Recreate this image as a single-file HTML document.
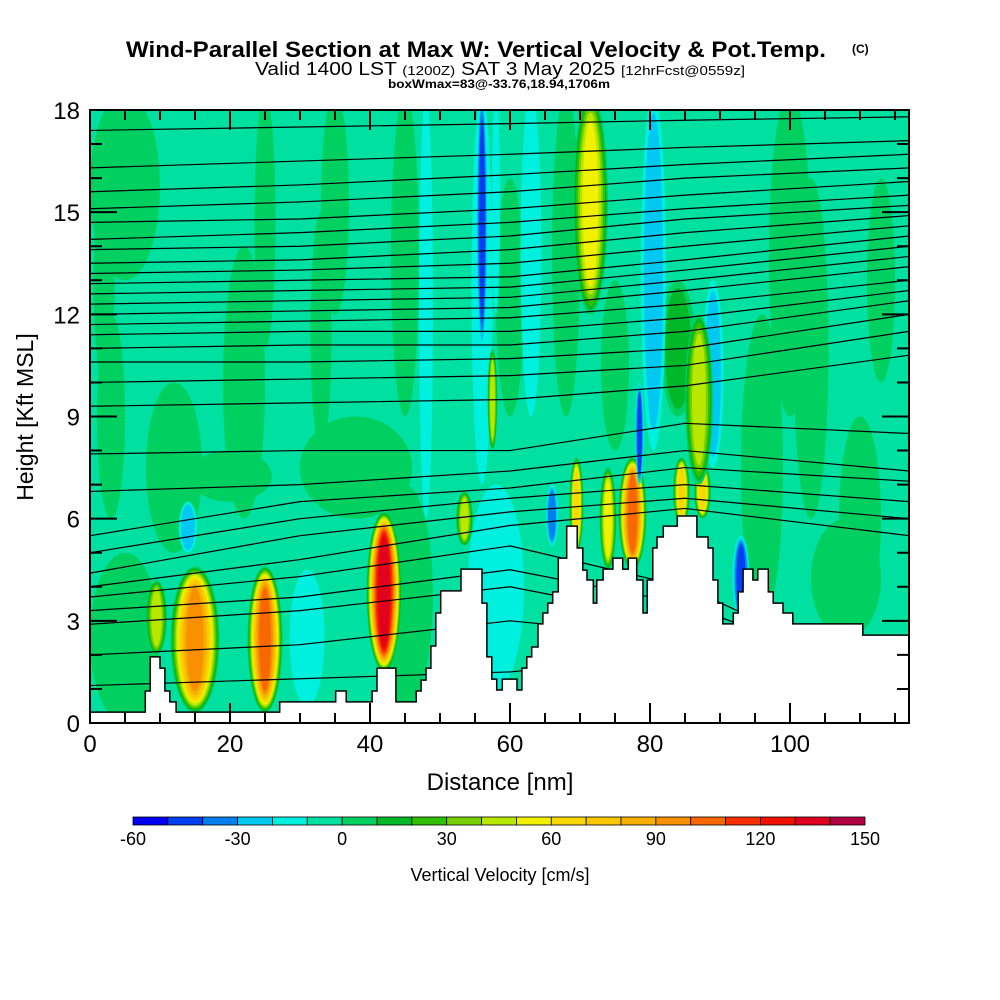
<!DOCTYPE html>
<html><head><meta charset="utf-8"><style>
html,body{margin:0;padding:0;background:#fff}
svg{display:block}
text{font-family:"Liberation Sans",sans-serif}
</style></head><body>
<svg id="chart" width="1000" height="1000" viewBox="0 0 1000 1000" xmlns="http://www.w3.org/2000/svg">
<rect width="1000" height="1000" fill="#fff"/>
<text x="126" y="57" font-size="22" font-weight="bold" textLength="700" lengthAdjust="spacingAndGlyphs">Wind-Parallel Section at Max W: Vertical Velocity &amp; Pot.Temp.</text>
<text x="852" y="53" font-size="12" font-weight="bold">(C)</text>
<text x="255" y="75" font-size="18" textLength="490" lengthAdjust="spacingAndGlyphs">Valid 1400 LST <tspan font-size="13">(1200Z)</tspan> SAT 3 May 2025 <tspan font-size="13">[12hrFcst@0559z]</tspan></text>
<text x="388" y="88" font-size="12" font-weight="bold" textLength="222" lengthAdjust="spacingAndGlyphs">boxWmax=83@-33.76,18.94,1706m</text>
<defs><clipPath id="plotclip"><rect x="90" y="110" width="819" height="613"/></clipPath></defs>
<g id="fieldG" clip-path="url(#plotclip)"></g>
<g id="linesG" clip-path="url(#plotclip)"></g>
<g id="terrainG" clip-path="url(#plotclip)"></g>
<g id="axesG"></g>
<g id="cbarG"></g>
<text x="0" y="0" font-size="23" text-anchor="middle" transform="translate(33,417) rotate(-90)">Height [Kft MSL]</text>
<text x="500" y="790" font-size="24" text-anchor="middle">Distance [nm]</text>
<text x="500" y="881" font-size="18" text-anchor="middle">Vertical Velocity [cm/s]</text>
</svg>
<script>
// ---- data ----
var xTicks=[0,20,40,60,80,100];
var yTicks=[0,3,6,9,12,15,18];
var cbarLevels=[-60,-50,-40,-30,-20,-10,0,10,20,30,40,50,60,70,80,90,100,110,120,130,140,150];
var cbarLabels=[-60,-30,0,30,60,90,120,150];
var cbarColors=["#0000f0","#0040f0","#0080f0","#00c8f0","#00f0e0","#00e0a0","#00d060","#00b828","#30c000","#78d000","#b8e800","#f0f000","#f8d800","#f8c800","#f8b000","#f89000","#f86800","#f83000","#f01000","#e00020","#b00040"];
var terrainNm=[0,7.9,8.6,10,10.7,11.4,12.3,27.1,35.1,36.6,40.3,41,43.7,46.6,47.3,48,48.7,49.4,50.1,53,56,56.7,57.4,58.1,58.9,61,61.7,62.4,63.1,64,64.7,65.4,66.1,66.9,68.1,69.6,70.4,71,71.9,72.4,73.3,74.7,76.1,76.9,78.1,79,79.6,80.4,81,81.9,83.9,86.7,88.3,89,89.7,90.4,91.9,92.6,93.3,94.7,95.4,96.9,97.6,99,100.4,110.4];
var terrainKft=[0.32,0.94,1.94,1.61,0.94,0.62,0.32,0.62,0.94,0.62,0.94,1.61,0.62,0.94,1.26,1.61,2.26,3.23,3.88,4.52,3.52,1.94,1.29,0.97,1.29,0.97,1.61,1.94,2.23,2.91,3.23,3.52,3.85,4.84,5.78,5.14,4.49,4.2,3.52,4.2,4.52,4.84,4.52,4.84,4.2,3.23,4.2,5.14,5.46,5.78,6.08,5.46,5.14,4.2,3.52,2.91,3.23,3.85,4.52,4.2,4.52,3.85,3.52,3.23,2.91,2.58];
var lineNm=[0,30,60,85,117];
var thetaLines=[
[17.4,17.5,17.6,17.7,17.8],[16.3,16.5,16.7,16.9,17.1],[15.6,15.8,16.1,16.4,16.7],[15.1,15.3,15.6,16.0,16.3],
[14.7,14.8,15.1,15.5,15.9],[14.2,14.4,14.7,15.1,15.5],[13.9,14.0,14.3,14.8,15.2],[13.5,13.6,13.9,14.4,14.9],
[13.2,13.3,13.5,14.0,14.6],[12.9,13.0,13.1,13.6,14.3],[12.6,12.7,12.8,13.3,14.0],[12.3,12.4,12.5,13.0,13.7],
[12.0,12.1,12.2,12.7,13.4],[11.7,11.8,11.9,12.3,13.0],[11.4,11.5,11.5,11.9,12.7],[11.0,11.1,11.1,11.5,12.4],
[10.6,10.6,10.7,11.0,12.0],[10.0,10.1,10.2,10.5,11.5],[9.3,9.4,9.5,9.9,10.8],
[7.9,8.0,8.0,8.8,8.5],[6.8,7.0,7.4,8.0,7.4],[5.5,6.5,6.9,7.5,7.1],[5.0,6.0,6.6,7.0,6.5],
[4.4,5.5,6.2,6.6,6.0],[4.0,4.8,5.8,6.3,5.5],[3.7,4.3,5.2,4.0,1.0],[3.3,3.7,4.5,3.5,1.0],
[2.9,3.3,4.0,3.0,1.0],[2.0,2.3,3.0,2.5,1.0],[1.1,1.3,1.5,2.0,1.0]];
// velocity cells: center nm, bottom kft, top kft, half-width nm, peak cm/s
var cellNm=  [5,3,108,103,25,33,45,84,100,2,60,113,38,20,5,22,45,12,35,68,96,110,75,58,31,48,56,63,80.5,89,15,9.5,25,42,71.5,69.5,77.5,74,84.5,87.5,53.5,57.5,87,56,78.5,93,66,14,58];
var cellBot= [0,6,2.5,6,11,8,9,9,9,10,9,10,6,6.5,13,6,0.5,5,12,9,3,3,8,1,0.5,6,7,9,8,7.5,0.3,2,0.3,1.5,12,5,4.5,4.5,5.8,6,5.2,8,7,11,7,3,5.2,5,12];
var cellTop= [5,12,6,16,18.5,15,18.5,13,18.5,16,16,16,9,8,18.5,14,7,10,18.5,18.5,12,9,13,7,4.5,18.5,18.5,18.5,18.5,13,4.6,4.2,4.6,6.2,18.5,7.8,7.8,7.5,7.8,7.6,6.8,11,12,18.5,10,5.5,7,6.5,18.5];
var cellHw=  [5,2,5,2.5,1.5,1.5,2,2.5,3,1.5,2,2,8,6,5,3,4,4,2,2,3,3,2,4,2.5,1,1.5,1.5,1.8,1.5,3.5,1.5,2.5,2.5,2.5,1,2,1.2,1.2,1.2,1.2,0.7,2,0.8,0.6,1.2,0.9,1.3,0.6];
var cellPeak=[5,5,5,5,5,5,5,15,5,5,5,5,5,5,5,5,5,5,5,5,5,5,5,-10,-10,-10,-10,-10,-20,-20,90,40,100,130,50,60,100,50,60,60,40,40,40,-40,-40,-40,-30,-20,-10];

// ---- scales ----
var X0=90,X1=909,Y0=723,Y1=110,NMAX=117,KMAX=18;
function sx(nm){return X0+nm*(X1-X0)/NMAX;}
function sy(k){return Y0-k*(Y0-Y1)/KMAX;}
var SVGNS="http://www.w3.org/2000/svg";
function mk(tag,parent){var e=document.createElementNS(SVGNS,tag);parent.appendChild(e);return e;}
function colorFor(v){var i=Math.floor((v+60)/10);i=Math.max(0,Math.min(20,i));return cbarColors[i];}

// ---- field ----
try{
var fieldG=document.getElementById('fieldG');
var bgRect=mk('rect',fieldG);


bgRect.setAttribute('x',X0);bgRect.setAttribute('y',Y1);bgRect.setAttribute('width',X1-X0);bgRect.setAttribute('height',Y0-Y1);bgRect.setAttribute('fill',cbarColors[5]);
for(var c=0;c<cellNm.length;c++){
  var p=cellPeak[c];var pos=p>0;
  var start=pos?0:-10;var step=pos?10:-10;
  var n=Math.max(1,Math.floor(Math.abs(p-start)/10)+1);
  var cx=sx(cellNm[c]),cy=(sy(cellBot[c])+sy(cellTop[c]))/2;
  var rx=(sx(cellHw[c])-sx(0)),ry=Math.abs(sy(cellTop[c])-sy(cellBot[c]))/2;
  for(var k=0;k<n;k++){
    var lv=start+k*step;
    var f=Math.sqrt(1-k/(n+0.3));
    var el=mk('ellipse',fieldG);
    
    
    el.setAttribute('cx',cx);el.setAttribute('cy',cy);
    el.setAttribute('rx',rx*f);el.setAttribute('ry',ry*(0.55+0.45*f));
    el.setAttribute('fill',colorFor(pos?lv+1:lv-1));
  }
}
}catch(e){}

// ---- theta contours ----
try{
var linesG=document.getElementById('linesG');
for(var i=0;i<thetaLines.length;i++){
  var ln=thetaLines[i];
  var pts=[];
  for(var j=0;j<ln.length;j++){pts.push(sx(lineNm[j])+','+sy(ln[j]));}
  var pl=mk('polyline',linesG);
  
  
  pl.setAttribute('points',pts.join(' '));
  pl.setAttribute('fill','none');pl.setAttribute('stroke','#000');pl.setAttribute('stroke-width','1.2');
}
}catch(e){}

// ---- terrain ----
try{
var terrainG=document.getElementById('terrainG');
var pd='M'+sx(0)+','+sy(0);
for(var t=0;t<terrainNm.length;t++){
  var tx=sx(terrainNm[t]),ty=sy(terrainKft[t]);
  var txn=t+1<terrainNm.length?sx(terrainNm[t+1]):sx(NMAX);
  pd+=' L'+tx+','+ty+' L'+txn+','+ty;
}
pd+=' L'+sx(NMAX)+','+sy(0)+' Z';
var tpath=mk('path',terrainG);


tpath.setAttribute('d',pd);tpath.setAttribute('fill','#fff');tpath.setAttribute('stroke','#000');tpath.setAttribute('stroke-width','1.5');
}catch(e){}

// ---- axes ----
try{
var axesG=document.getElementById('axesG');
var frameRect=mk('rect',axesG);


frameRect.setAttribute('x',X0);frameRect.setAttribute('y',Y1);frameRect.setAttribute('width',X1-X0);frameRect.setAttribute('height',Y0-Y1);
frameRect.setAttribute('fill','none');frameRect.setAttribute('stroke','#000');frameRect.setAttribute('stroke-width','2');
var td='';
for(var nm=0;nm<=NMAX;nm+=5){var xx=sx(nm);var L1=nm%20===0?20:10;td+='M'+xx+','+Y0+'v'+(-L1)+'M'+xx+','+Y1+'v'+L1;}
for(var kk=0;kk<=KMAX;kk+=1){var yy=sy(kk);var L2=kk%3===0?27:12;td+='M'+X0+','+yy+'h'+L2+'M'+X1+','+yy+'h'+(-L2);}
var tickPath=mk('path',axesG);


tickPath.setAttribute('d',td);tickPath.setAttribute('stroke','#000');tickPath.setAttribute('stroke-width','2');
for(var a=0;a<xTicks.length;a++){var xt=mk('text',axesG);
  
  
  xt.setAttribute('x',sx(xTicks[a]));xt.setAttribute('y',752);xt.setAttribute('font-size','24');xt.setAttribute('text-anchor','middle');xt.textContent=xTicks[a];}
for(var b=0;b<yTicks.length;b++){var yt=mk('text',axesG);
  
  
  yt.setAttribute('x',80);yt.setAttribute('y',sy(yTicks[b])+9);yt.setAttribute('font-size','24');yt.setAttribute('text-anchor','end');yt.textContent=yTicks[b];}
}catch(e){}

// ---- colorbar ----
try{
var cbarG=document.getElementById('cbarG');
var CB0=133,CB1=865,CBY=817,CBH=8;
function cbx(v){return CB0+(v-cbarLevels[0])*(CB1-CB0)/(cbarLevels[cbarLevels.length-1]-cbarLevels[0]);}
for(var q=0;q<cbarColors.length;q++){
  var r=mk('rect',cbarG);
  
  
  r.setAttribute('x',cbx(cbarLevels[q]));r.setAttribute('y',CBY);r.setAttribute('width',cbx(cbarLevels[q+1])-cbx(cbarLevels[q]));r.setAttribute('height',CBH);
  r.setAttribute('fill',cbarColors[q]);r.setAttribute('stroke','#000');r.setAttribute('stroke-width','0.8');
}
for(var s=0;s<cbarLabels.length;s++){var ct=mk('text',cbarG);
  
  
  ct.setAttribute('x',cbx(cbarLabels[s]));ct.setAttribute('y',845);ct.setAttribute('font-size','18');ct.setAttribute('text-anchor','middle');ct.textContent=cbarLabels[s];}
}catch(e){}
</script>
</body></html>
